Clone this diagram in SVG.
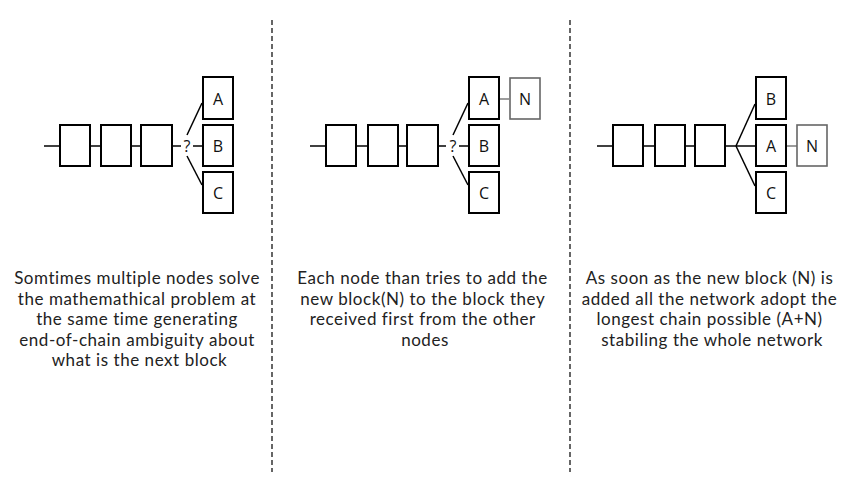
<svg xmlns="http://www.w3.org/2000/svg" width="850" height="494" viewBox="0 0 850 494">
<style>
.blk{fill:#fff;stroke:#000;stroke-width:2}
.new{fill:#fff;stroke:#666;stroke-width:1.6}
.ln{stroke:#000;stroke-width:1.5;fill:none}
.lg{stroke:#666;stroke-width:1.3;fill:none}
.div{stroke:#000;stroke-width:1.2;stroke-dasharray:5 3}
.lbl{font-family:"Open Sans","Liberation Sans",sans-serif;font-size:16px;fill:#111;text-anchor:middle;dominant-baseline:central}
.cap{font-family:Lato,"Open Sans","Liberation Sans",sans-serif;font-size:17px;letter-spacing:0.55px;fill:#222;text-anchor:middle}
</style>
<rect width="850" height="494" fill="#fff"/>
<g id="connectors">
<line class="div" x1="272" y1="20" x2="272" y2="472"/>
<line class="div" x1="570" y1="20" x2="570" y2="472"/>
<line class="ln" x1="44" y1="146" x2="181" y2="146"/>
<line class="ln" x1="193" y1="146" x2="202" y2="146"/>
<line class="ln" x1="187" y1="135" x2="202" y2="103"/>
<line class="ln" x1="187" y1="156" x2="202" y2="185"/>
<line class="ln" x1="310" y1="146" x2="446" y2="146"/>
<line class="ln" x1="459" y1="146" x2="468" y2="146"/>
<line class="ln" x1="453" y1="135" x2="468" y2="103"/>
<line class="ln" x1="453" y1="156" x2="468" y2="185"/>
<line class="lg" x1="499" y1="99" x2="509" y2="99"/>
<line class="ln" x1="597" y1="146" x2="756" y2="146"/>
<line class="ln" x1="736" y1="146" x2="755" y2="104"/>
<line class="ln" x1="736" y1="146" x2="755" y2="186"/>
<line class="lg" x1="786" y1="146" x2="797" y2="146"/>
</g>
<g id="p1-b1"><rect class="blk" x="60" y="125" width="30" height="41"/></g>
<g id="p1-b2"><rect class="blk" x="101" y="125" width="30" height="41"/></g>
<g id="p1-b3"><rect class="blk" x="141" y="125" width="31" height="41"/></g>
<g id="p1-q"><text class="lbl" x="187" y="146">?</text></g>
<g id="p1-A"><rect class="blk" x="203" y="77" width="30" height="42"/><text class="lbl" x="218" y="99">A</text></g>
<g id="p1-B"><rect class="blk" x="203" y="125" width="30" height="41"/><text class="lbl" x="218" y="146">B</text></g>
<g id="p1-C"><rect class="blk" x="203" y="172" width="30" height="41"/><text class="lbl" x="218" y="193">C</text></g>

<g id="p2-b1"><rect class="blk" x="326" y="125" width="30" height="41"/></g>
<g id="p2-b2"><rect class="blk" x="368" y="125" width="30" height="41"/></g>
<g id="p2-b3"><rect class="blk" x="407" y="125" width="31" height="41"/></g>
<g id="p2-q"><text class="lbl" x="453" y="146">?</text></g>
<g id="p2-A"><rect class="blk" x="469" y="77" width="30" height="42"/><text class="lbl" x="484" y="99">A</text></g>
<g id="p2-N"><rect class="new" x="510" y="78" width="30" height="41"/><text class="lbl" x="525" y="99">N</text></g>
<g id="p2-B"><rect class="blk" x="469" y="125" width="30" height="41"/><text class="lbl" x="484" y="146">B</text></g>
<g id="p2-C"><rect class="blk" x="469" y="172" width="30" height="41"/><text class="lbl" x="484" y="193">C</text></g>

<g id="p3-b1"><rect class="blk" x="613" y="125" width="30" height="41"/></g>
<g id="p3-b2"><rect class="blk" x="655" y="125" width="30" height="41"/></g>
<g id="p3-b3"><rect class="blk" x="695" y="125" width="30" height="41"/></g>
<g id="p3-B"><rect class="blk" x="756" y="77" width="30" height="42"/><text class="lbl" x="771" y="99">B</text></g>
<g id="p3-A"><rect class="blk" x="756" y="125" width="30" height="41"/><text class="lbl" x="771" y="146">A</text></g>
<g id="p3-N"><rect class="new" x="797" y="125" width="30" height="41"/><text class="lbl" x="812" y="146">N</text></g>
<g id="p3-C"><rect class="blk" x="756" y="172" width="30" height="41"/><text class="lbl" x="771" y="193">C</text></g>

<g id="cap1"><text class="cap">
<tspan x="139.5" y="284">Somtimes multiple nodes solve</tspan>
<tspan x="139.5" y="304.5">the mathemathical problem at</tspan>
<tspan x="139.5" y="325">the same time generating</tspan>
<tspan x="139.5" y="345.5">end-of-chain ambiguity about</tspan>
<tspan x="139.5" y="366">what is the next block</tspan>
</text></g>
<g id="cap2"><text class="cap">
<tspan x="425" y="284">Each node than tries to add the</tspan>
<tspan x="425" y="304.5">new block(N) to the block they</tspan>
<tspan x="425" y="325">received first from the other</tspan>
<tspan x="425" y="345.5">nodes</tspan>
</text></g>
<g id="cap3"><text class="cap">
<tspan x="712" y="284">As soon as the new block (N) is</tspan>
<tspan x="712" y="304.5">added all the network adopt the</tspan>
<tspan x="712" y="325">longest chain possible (A+N)</tspan>
<tspan x="712" y="345.5">stabiling the whole network</tspan>
</text></g>
</svg>
